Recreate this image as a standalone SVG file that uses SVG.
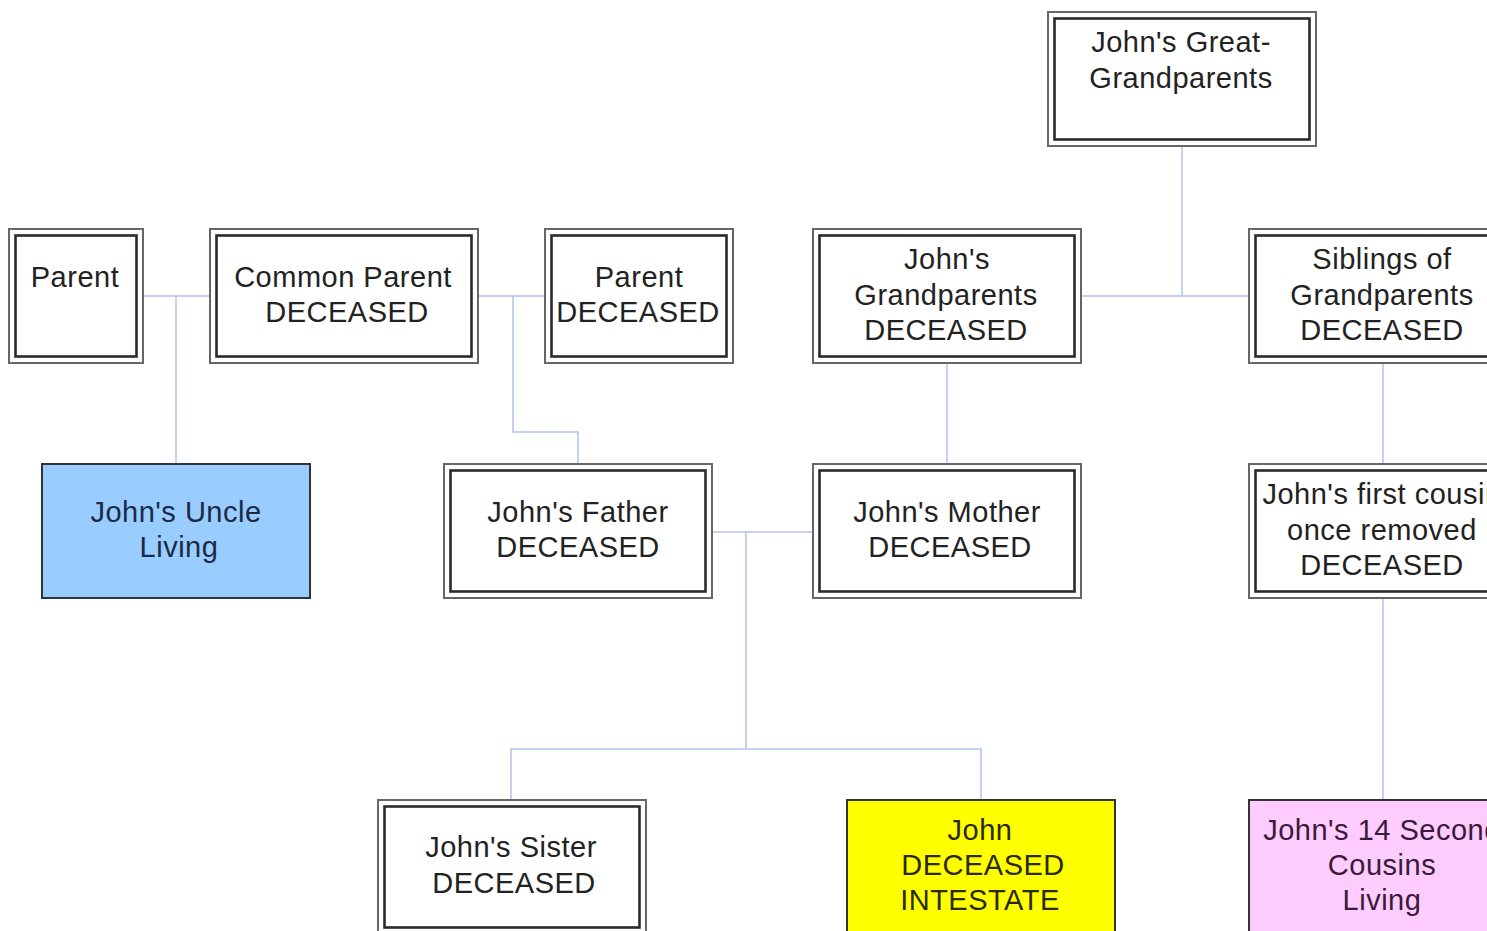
<svg xmlns="http://www.w3.org/2000/svg" width="1487" height="931" viewBox="0 0 1487 931">
<style>
.bg{fill:#ffffff}
.o{fill:#ffffff;stroke:#666666;stroke-width:2}
.i{fill:none;stroke:#2a2a2a;stroke-width:2.6}
.s{stroke:#333333;stroke-width:2}
.t{font-family:"Liberation Sans",Arial,sans-serif;font-size:29px;letter-spacing:0.5px;fill:#222222;text-anchor:middle}
.c{fill:none;stroke:#b4c2ea;stroke-width:1.5}
</style>
<rect class="bg" x="0" y="0" width="1487" height="931"/>
<g id="connectors">
<polyline class="c" points="143,296 210,296"/>
<polyline class="c" points="176,296 176,464"/>
<polyline class="c" points="478,296 545,296"/>
<polyline class="c" points="513,296 513,432 578,432 578,464"/>
<polyline class="c" points="947,363 947,464"/>
<polyline class="c" points="1182,146 1182,296"/>
<polyline class="c" points="1081,296 1249,296"/>
<polyline class="c" points="1383,363 1383,464"/>
<polyline class="c" points="1383,598 1383,800"/>
<polyline class="c" points="712,532 813,532"/>
<polyline class="c" points="746,532 746,749"/>
<polyline class="c" points="511,800 511,749 981,749 981,800"/>
</g>
<g id="great-grandparents">
<rect class="o" x="1048" y="12" width="268" height="134"/>
<rect class="i" x="1054.5" y="18.5" width="255" height="121"/>
<text class="t" x="1181" y="52">John's Great-</text>
<text class="t" x="1181" y="88">Grandparents</text>
</g>
<g id="parent">
<rect class="o" x="9" y="229" width="134" height="134"/>
<rect class="i" x="15.5" y="235.5" width="121" height="121"/>
<text class="t" x="75" y="287">Parent</text>
</g>
<g id="common-parent">
<rect class="o" x="210" y="229" width="268" height="134"/>
<rect class="i" x="216.5" y="235.5" width="255" height="121"/>
<text class="t" x="343" y="287">Common Parent</text>
<text class="t" x="347" y="322">DECEASED</text>
</g>
<g id="parent-deceased">
<rect class="o" x="545" y="229" width="188" height="134"/>
<rect class="i" x="551.5" y="235.5" width="175" height="121"/>
<text class="t" x="639" y="287">Parent</text>
<text class="t" x="638" y="322">DECEASED</text>
</g>
<g id="grandparents">
<rect class="o" x="813" y="229" width="268" height="134"/>
<rect class="i" x="819.5" y="235.5" width="255" height="121"/>
<text class="t" x="947" y="269">John's</text>
<text class="t" x="946" y="305">Grandparents</text>
<text class="t" x="946" y="340">DECEASED</text>
</g>
<g id="siblings-of-grandparents">
<rect class="o" x="1249" y="229" width="268" height="134"/>
<rect class="i" x="1255.5" y="235.5" width="255" height="121"/>
<text class="t" x="1382" y="269">Siblings of</text>
<text class="t" x="1382" y="305">Grandparents</text>
<text class="t" x="1382" y="340">DECEASED</text>
</g>
<g id="uncle">
<rect class="s" x="42" y="464" width="268" height="134" fill="#99ccff"/>
<text class="t" x="176" y="522" style="fill:#1a2a44">John's Uncle</text>
<text class="t" x="179" y="557" style="fill:#1a2a44">Living</text>
</g>
<g id="father">
<rect class="o" x="444" y="464" width="268" height="134"/>
<rect class="i" x="450.5" y="470.5" width="255" height="121"/>
<text class="t" x="578" y="522">John's Father</text>
<text class="t" x="578" y="557">DECEASED</text>
</g>
<g id="mother">
<rect class="o" x="813" y="464" width="268" height="134"/>
<rect class="i" x="819.5" y="470.5" width="255" height="121"/>
<text class="t" x="947" y="522">John's Mother</text>
<text class="t" x="950" y="557">DECEASED</text>
</g>
<g id="first-cousin">
<rect class="o" x="1249" y="464" width="268" height="134"/>
<rect class="i" x="1255.5" y="470.5" width="255" height="121"/>
<text class="t" x="1382" y="504">John's first cousin</text>
<text class="t" x="1382" y="540">once removed</text>
<text class="t" x="1382" y="575">DECEASED</text>
</g>
<g id="sister">
<rect class="o" x="378" y="800" width="268" height="140"/>
<rect class="i" x="384.5" y="806.5" width="255" height="121"/>
<text class="t" x="511" y="857">John's Sister</text>
<text class="t" x="514" y="893">DECEASED</text>
</g>
<g id="john">
<rect class="s" x="847" y="800" width="268" height="140" fill="#ffff00"/>
<text class="t" x="980" y="840" style="fill:#2a2a00">John</text>
<text class="t" x="983" y="875" style="fill:#2a2a00">DECEASED</text>
<text class="t" x="980" y="910" style="fill:#2a2a00">INTESTATE</text>
</g>
<g id="second-cousins">
<rect class="s" x="1249" y="800" width="268" height="140" fill="#ffccff"/>
<text class="t" x="1382" y="840" style="fill:#3a1a3a">John's 14 Second</text>
<text class="t" x="1382" y="875" style="fill:#3a1a3a">Cousins</text>
<text class="t" x="1382" y="910" style="fill:#3a1a3a">Living</text>
</g>
</svg>
